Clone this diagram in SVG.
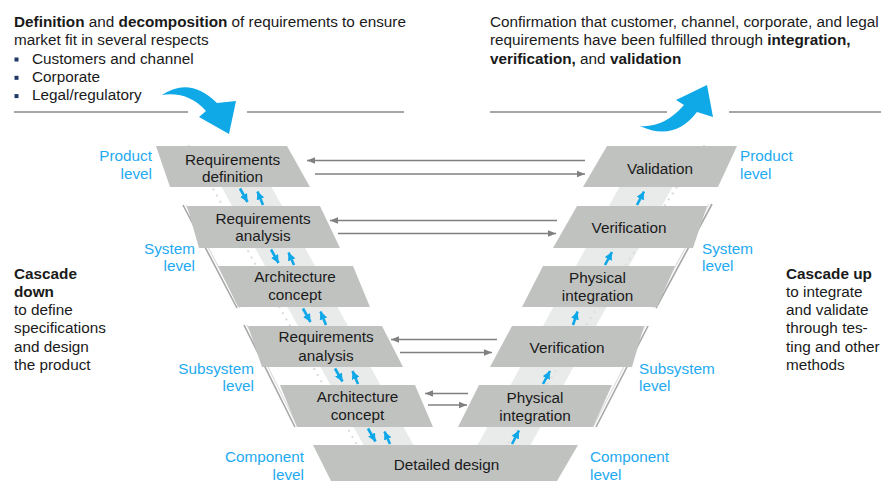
<svg xmlns="http://www.w3.org/2000/svg" width="881" height="481" viewBox="0 0 881 481">
<defs>
<style>
.t{font-family:"Liberation Sans",Arial,sans-serif;font-size:15.3px;fill:#1a1a1a}
.b{font-weight:bold}
.lv{font-family:"Liberation Sans",Arial,sans-serif;font-size:15.3px;fill:#1eaaf1}
.box{fill:#c0c2c0}
.band{fill:#e9eaea}
.dots{stroke:#dcdcdc;stroke-width:2.2;stroke-dasharray:0.1 7;stroke-linecap:round;fill:none}
.brk{stroke:#a6a6a6;stroke-width:1.6;fill:none}
.brk2{stroke:#dedede;stroke-width:1.2;fill:none}
.hl{stroke:#a6a6a6;stroke-width:2;fill:none}
.ga{stroke:#808080;stroke-width:1.5;fill:none}
.ba{stroke:#0ea7e8;stroke-width:2.6;fill:none}
.bul{fill:#1f3864}
.curve{fill:#0fa9e8}
</style>
<marker id="mg" viewBox="0 0 10 10" refX="10" refY="5" markerWidth="8" markerHeight="8" markerUnits="userSpaceOnUse" orient="auto"><path d="M0,1 L10,5 L0,9 z" fill="#808080"/></marker>
<marker id="mb" viewBox="0 0 10 10" refX="10" refY="5" markerWidth="8" markerHeight="8" markerUnits="userSpaceOnUse" orient="auto"><path d="M0,0 L10,5 L0,10 z" fill="#0ea7e8"/></marker>
</defs>
<rect width="881" height="481" fill="#ffffff"/>

<!-- header texts -->
<g id="header-left">
<text class="t" x="14" y="27"><tspan class="b">Definition</tspan> and <tspan class="b">decomposition</tspan> of requirements to ensure</text>
<text class="t" x="14" y="45.3">market fit in several respects</text>
<rect class="bul" x="14.5" y="57.5" width="4" height="4"/>
<text class="t" x="32" y="63.6">Customers and channel</text>
<rect class="bul" x="14.5" y="75.8" width="4" height="4"/>
<text class="t" x="32" y="81.9">Corporate</text>
<rect class="bul" x="14.5" y="94.1" width="4" height="4"/>
<text class="t" x="32" y="100.2">Legal/regulatory</text>
<line class="hl" x1="14" y1="112" x2="188" y2="112"/>
<line class="hl" x1="247" y1="112" x2="404" y2="112"/>
<path class="curve" d="M162,95 Q190,76 217,103 L236,101 L229,134 L199,117 L206,111 Q188,91 162,95 Z"/>
</g>
<g id="header-right">
<text class="t" x="490" y="27">Confirmation that customer, channel, corporate, and legal</text>
<text class="t" x="490" y="45.3">requirements have been fulfilled through <tspan class="b">integration,</tspan></text>
<text class="t" x="490" y="63.6"><tspan class="b">verification,</tspan> and <tspan class="b">validation</tspan></text>
<line class="hl" x1="490" y1="112" x2="667" y2="112"/>
<line class="hl" x1="729" y1="112" x2="881" y2="112"/>
<path class="curve" d="M640,126 Q674,142 697,112 L713,117 L707,85 L676,100 L684,105 Q664,128 640,126 Z"/>
</g>

<!-- background bands -->
<g id="bands">
<polygon class="band" points="199,146 249,146 413.5,445 363.5,445"/>
<polygon class="band" points="642,146 695,146 530.5,445 477.5,445"/>
<line class="dots" x1="189" y1="146" x2="357" y2="445"/>
<line class="dots" x1="704" y1="146" x2="507" y2="445"/>
<line class="brk2" x1="186" y1="205" x2="240" y2="308"/>
<line class="brk" x1="183" y1="205" x2="237" y2="308"/>
<line class="brk2" x1="709" y1="204" x2="653" y2="308"/>
<line class="brk" x1="712" y1="204" x2="656" y2="308"/>
<line class="brk2" x1="247" y1="325" x2="298" y2="427"/>
<line class="brk" x1="244" y1="325" x2="295" y2="427"/>
<line class="brk2" x1="645" y1="326" x2="593" y2="427"/>
<line class="brk" x1="648" y1="326" x2="596" y2="427"/>
</g>

<!-- left column -->
<g id="req-definition">
<polygon class="box" points="156,146 287,146 310,187 170,187"/>
<text class="t" x="232.5" y="165" text-anchor="middle">Requirements</text>
<text class="t" x="232.5" y="182" text-anchor="middle">definition</text>
</g>
<g id="req-analysis-system">
<polygon class="box" points="187,206 320,206 340,248 199,248"/>
<text class="t" x="263" y="223.5" text-anchor="middle">Requirements</text>
<text class="t" x="263" y="241" text-anchor="middle">analysis</text>
</g>
<g id="arch-concept-system">
<polygon class="box" points="218,266 353,266 370,307 238,307"/>
<text class="t" x="295" y="282" text-anchor="middle">Architecture</text>
<text class="t" x="295" y="300" text-anchor="middle">concept</text>
</g>
<g id="req-analysis-subsystem">
<polygon class="box" points="248,326 382,326 403,367 262,367"/>
<text class="t" x="326" y="342" text-anchor="middle">Requirements</text>
<text class="t" x="326" y="360.5" text-anchor="middle">analysis</text>
</g>
<g id="arch-concept-subsystem">
<polygon class="box" points="280,385 415,385 433,427 297,427"/>
<text class="t" x="357.5" y="402" text-anchor="middle">Architecture</text>
<text class="t" x="357.5" y="420" text-anchor="middle">concept</text>
</g>
<g id="detailed-design">
<polygon class="box" points="313,445 578,445 557,481 331,481"/>
<text class="t" x="446.5" y="470" text-anchor="middle">Detailed design</text>
</g>

<!-- right column -->
<g id="validation">
<polygon class="box" points="607,146 737,146 718,187 583,187"/>
<text class="t" x="660" y="173.5" text-anchor="middle">Validation</text>
</g>
<g id="verification-system">
<polygon class="box" points="577,206 707,206 693,248 553,248"/>
<text class="t" x="629" y="233" text-anchor="middle">Verification</text>
</g>
<g id="physical-integration-system">
<polygon class="box" points="543,266 675,266 657,307 522,307"/>
<text class="t" x="597.5" y="283" text-anchor="middle">Physical</text>
<text class="t" x="597.5" y="301" text-anchor="middle">integration</text>
</g>
<g id="verification-subsystem">
<polygon class="box" points="512,326 644,326 632,367 490,367"/>
<text class="t" x="567" y="353" text-anchor="middle">Verification</text>
</g>
<g id="physical-integration-subsystem">
<polygon class="box" points="479,385 612,385 593,427 458,427"/>
<text class="t" x="535" y="403" text-anchor="middle">Physical</text>
<text class="t" x="535" y="421" text-anchor="middle">integration</text>
</g>

<!-- level labels -->
<g id="levels">
<text class="lv" x="152" y="161" text-anchor="end">Product</text>
<text class="lv" x="152" y="178.5" text-anchor="end">level</text>
<text class="lv" x="195" y="253.5" text-anchor="end">System</text>
<text class="lv" x="195" y="271" text-anchor="end">level</text>
<text class="lv" x="254" y="373.5" text-anchor="end">Subsystem</text>
<text class="lv" x="254" y="391" text-anchor="end">level</text>
<text class="lv" x="304" y="462" text-anchor="end">Component</text>
<text class="lv" x="304" y="479.5" text-anchor="end">level</text>
<text class="lv" x="740" y="161">Product</text>
<text class="lv" x="740" y="178.5">level</text>
<text class="lv" x="702" y="253.5">System</text>
<text class="lv" x="702" y="271">level</text>
<text class="lv" x="639" y="373.5">Subsystem</text>
<text class="lv" x="639" y="391">level</text>
<text class="lv" x="590" y="462">Component</text>
<text class="lv" x="590" y="479.5">level</text>
</g>

<!-- side texts -->
<g id="cascade-down">
<text class="t b" x="14" y="278.5">Cascade</text>
<text class="t b" x="14" y="296.8">down</text>
<text class="t" x="14" y="315.1">to define</text>
<text class="t" x="14" y="333.4">specifications</text>
<text class="t" x="14" y="351.7">and design</text>
<text class="t" x="14" y="370">the product</text>
</g>
<g id="cascade-up">
<text class="t b" x="786" y="278.5">Cascade up</text>
<text class="t" x="786" y="296.8">to integrate</text>
<text class="t" x="786" y="315.1">and validate</text>
<text class="t" x="786" y="333.4">through tes-</text>
<text class="t" x="786" y="351.7">ting and other</text>
<text class="t" x="786" y="370">methods</text>
</g>

<!-- connectors -->
<g id="connectors">
<line class="ga" x1="585" y1="160.5" x2="307" y2="160.5" marker-end="url(#mg)"/>
<line class="ga" x1="315" y1="174" x2="585" y2="174" marker-end="url(#mg)"/>
<line class="ga" x1="557" y1="220.5" x2="330" y2="220.5" marker-end="url(#mg)"/>
<line class="ga" x1="338" y1="233.5" x2="556" y2="233.5" marker-end="url(#mg)"/>
<line class="ga" x1="497" y1="339.5" x2="391" y2="339.5" marker-end="url(#mg)"/>
<line class="ga" x1="400" y1="352.5" x2="492" y2="352.5" marker-end="url(#mg)"/>
<line class="ga" x1="468" y1="393.5" x2="425" y2="393.5" marker-end="url(#mg)"/>
<line class="ga" x1="428" y1="405" x2="467" y2="405" marker-end="url(#mg)"/>

<line class="ba" x1="240" y1="188.5" x2="247.5" y2="202" marker-end="url(#mb)"/>
<line class="ba" x1="263" y1="205" x2="257.5" y2="191.5" marker-end="url(#mb)"/>
<line class="ba" x1="271" y1="249.5" x2="278.5" y2="263" marker-end="url(#mb)"/>
<line class="ba" x1="294" y1="265" x2="288.5" y2="252.5" marker-end="url(#mb)"/>
<line class="ba" x1="303" y1="308.5" x2="310.5" y2="322" marker-end="url(#mb)"/>
<line class="ba" x1="326" y1="325" x2="320.5" y2="311.5" marker-end="url(#mb)"/>
<line class="ba" x1="335" y1="368.5" x2="342.5" y2="381.5" marker-end="url(#mb)"/>
<line class="ba" x1="358" y1="384" x2="352.5" y2="371" marker-end="url(#mb)"/>
<line class="ba" x1="368" y1="428.5" x2="375.5" y2="441.5" marker-end="url(#mb)"/>
<line class="ba" x1="390" y1="444" x2="384.5" y2="431.5" marker-end="url(#mb)"/>

<line class="ba" x1="637" y1="205" x2="644" y2="191.5" marker-end="url(#mb)"/>
<line class="ba" x1="605" y1="265" x2="612" y2="252" marker-end="url(#mb)"/>
<line class="ba" x1="573" y1="325" x2="577.5" y2="311.5" marker-end="url(#mb)"/>
<line class="ba" x1="543" y1="384" x2="550" y2="371" marker-end="url(#mb)"/>
<line class="ba" x1="512" y1="444" x2="519" y2="430.5" marker-end="url(#mb)"/>
</g>
</svg>
